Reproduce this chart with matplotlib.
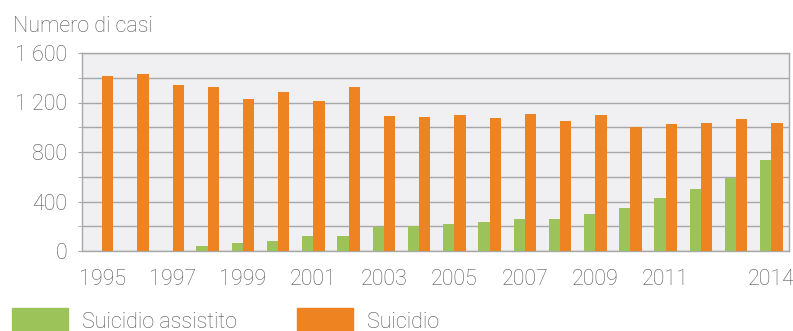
import numpy as np
import matplotlib.pyplot as plt
from matplotlib.patches import Rectangle
from matplotlib.ticker import FuncFormatter, MultipleLocator

plt.rcParams['font.family'] = ['Roboto', 'DejaVu Sans']

years = np.arange(1995, 2015)
suicidio = [1414, 1430, 1339, 1325, 1231, 1285, 1212, 1325, 1091, 1080,
            1096, 1077, 1107, 1053, 1102, 999, 1029, 1037, 1069, 1032]
assistito = [0, 0, 0, 40, 62, 83, 124, 124, 194, 204,
             216, 237, 261, 261, 297, 351, 425, 503, 593, 735]
xtick_years = [1995, 1997, 1999, 2001, 2003, 2005, 2007, 2009, 2011, 2014]

green = '#9cc25a'
orange = '#ee8421'
text_col = '#555555'
grid_col = '#a8a8a8'

fig = plt.figure(figsize=(7.93, 3.31), dpi=100)
ax = fig.add_axes([82 / 793, 1 - 251 / 331, 707 / 793, 198 / 331])
ax.set_facecolor('#f0f0f2')

w = 0.32
ax.bar(years - w / 2, assistito, width=w, color=green, zorder=3)
ax.bar(years + w / 2, suicidio, width=w, color=orange, zorder=3)

ax.set_xlim(1994.43, 2014.5)
ax.set_ylim(0, 1600)
ax.yaxis.set_major_locator(MultipleLocator(400))
ax.yaxis.set_minor_locator(MultipleLocator(200))
ax.yaxis.set_major_formatter(FuncFormatter(lambda v, p: f'{int(v):,}'.replace(',', ' ')))
ax.grid(axis='y', which='both', color=grid_col, linewidth=1.0, zorder=1)
ax.tick_params(axis='y', which='both', length=3, color=grid_col, pad=7.5,
               labelsize=15.5, labelcolor=text_col)
ax.set_xticks(xtick_years)
ax.tick_params(axis='x', length=0, pad=13, labelsize=15.5, labelcolor=text_col)
for lab in ax.get_xticklabels() + ax.get_yticklabels():
    lab.set_fontweight('light')
for s in ax.spines.values():
    s.set_color(grid_col)
    s.set_linewidth(1.0)

fig.text(13 / 793, 1 - 32 / 331, 'Numero di casi', fontsize=15.5, color=text_col,
         fontweight='light', va='baseline')

# legend
for x0, col, label in [(12, green, 'Suicidio assistito'), (297, orange, 'Suicidio')]:
    fig.patches.append(Rectangle((x0 / 793, 0), 56 / 793, 23 / 331,
                                 transform=fig.transFigure, color=col))
    fig.text((x0 + 70) / 793, 1 - 328 / 331, label, fontsize=15.5, color=text_col,
             fontweight='light', va='baseline')

fig.savefig('out.png', dpi=100)
